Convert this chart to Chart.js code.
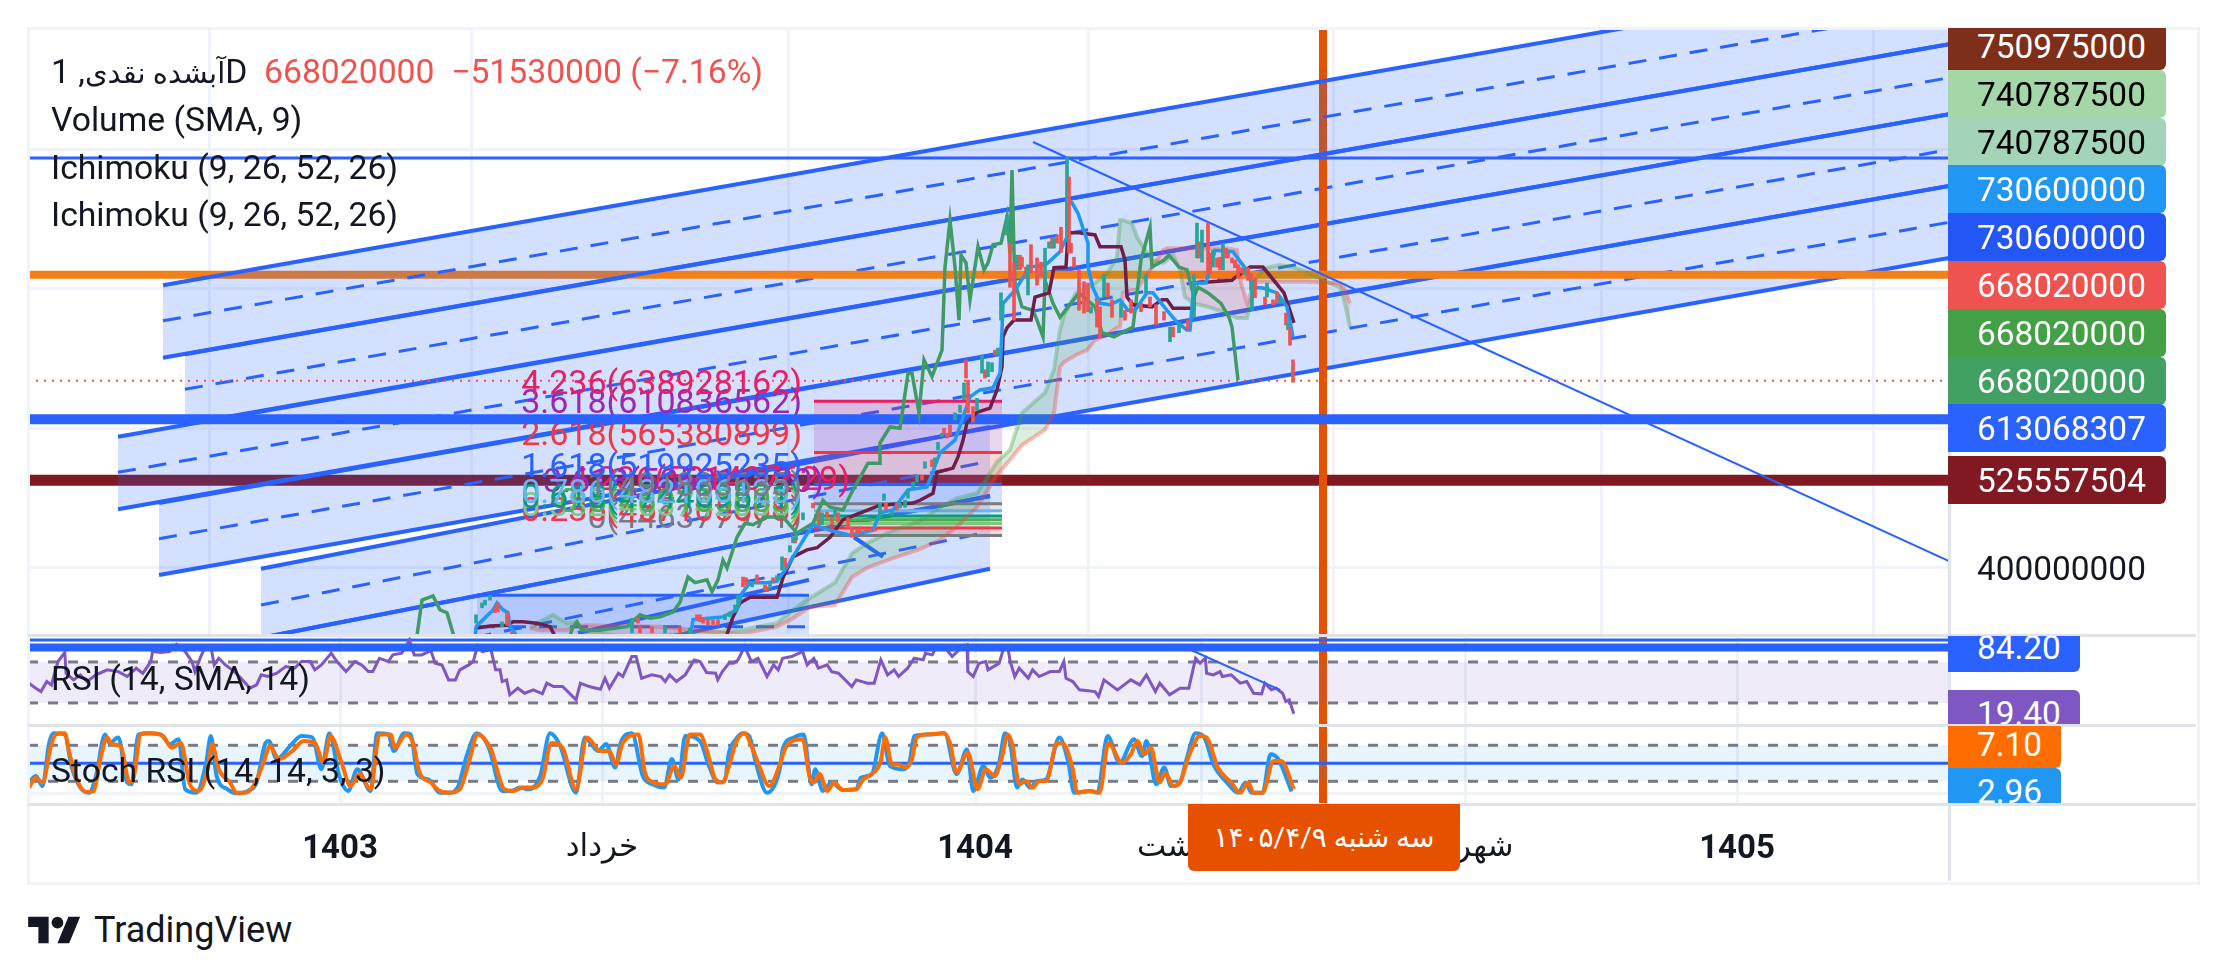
<!DOCTYPE html>
<html>
<head>
<meta charset="utf-8">
<title>آبشده نقدی</title>
<script src="https://cdn.jsdelivr.net/npm/chart.js@4/dist/chart.umd.js"></script>
<style>
  html, body { margin: 0; padding: 0; background: #fff; width: 2223px; height: 979px; overflow: hidden; }
  body { font-family: Roboto, 'DejaVu Sans', sans-serif; color: #131722; }
  canvas { position: absolute; left: 28px; z-index: 1; }
  .rule { position: absolute; z-index: 2; }
  .legend { position: absolute; left: 51px; font-size: 33.7px; line-height: 48px; white-space: pre; z-index: 3; direction: ltr; }
  .legend .down { color: #ef5350; }
  .legend .name { font-size: 29px; }
  .tags { position: absolute; left: 1948px; width: 240px; overflow: hidden; z-index: 3; }
  .tag { position: absolute; left: 0; height: 47.5px; line-height: 47.5px; padding: 0 19px 0 29px; font-size: 33.4px; color: #fff; border-radius: 0 6px 6px 0; }
  .tags.axis .tag { line-height: 49.5px; }
  .date { position: absolute; left: 1188px; top: 804px; width: 272px; height: 67px; line-height: 67px; background: #e65100; color: #fff; text-align: center; font-size: 28px; border-radius: 0 0 6px 6px; z-index: 4; direction: rtl; }
  .brand { position: absolute; left: 94px; top: 907px; font-size: 36px; line-height: 46px; }
  .mark { position: absolute; left: 28px; top: 911px; }
</style>
</head>
<body>
<canvas id="price" width="2168" height="607" style="top:28px"></canvas>
<canvas id="rsi" width="2168" height="90" style="top:635px"></canvas>
<canvas id="stoch" width="2168" height="156" style="top:725px"></canvas>

<div class="rule" style="left:27px;top:27px;width:2167px;height:852px;border:3px solid #f0f3fa"></div>
<div class="rule" style="left:1948px;top:28px;width:3px;height:853px;background:#e0e3eb"></div>
<div class="rule" style="left:28px;top:634px;width:2168px;height:3px;background:#e0e3eb"></div>
<div class="rule" style="left:28px;top:724px;width:2168px;height:3px;background:#e0e3eb"></div>
<div class="rule" style="left:28px;top:803px;width:2168px;height:3px;background:#e0e3eb"></div>

<div class="legend" style="top:48px">1 ,<span class="name">آبشده نقدی</span>D  <span class="down">668020000  −51530000 (−7.16%)</span></div>
<div class="legend" style="top:96px">Volume (SMA, 9)</div>
<div class="legend" style="top:144px">Ichimoku (9, 26, 52, 26)</div>
<div class="legend" style="top:191px">Ichimoku (9, 26, 52, 26)</div>
<div class="legend" style="top:655px">RSI (14, SMA, 14)</div>
<div class="legend" style="top:747px">Stoch RSI (14, 14, 3, 3)</div>

<div class="tags axis" style="top:28px;height:607px">
  <div class="tag" style="top:-6px;width:170px;background:#7e2f1a">750975000</div>
  <div class="tag" style="top:42px;width:170px;background:#a5d6a7;color:#000">740787500</div>
  <div class="tag" style="top:90px;width:170px;background:#a3d4b7;color:#000">740787500</div>
  <div class="tag" style="top:137px;width:170px;background:#2196f3">730600000</div>
  <div class="tag" style="top:185px;width:170px;background:#2257f5">730600000</div>
  <div class="tag" style="top:233px;width:170px;background:#ef5350">668020000</div>
  <div class="tag" style="top:281px;width:170px;background:#43a047">668020000</div>
  <div class="tag" style="top:329px;width:170px;background:#41a062">668020000</div>
  <div class="tag" style="top:376px;width:170px;background:#2962ff">613068307</div>
  <div class="tag" style="top:428px;width:170px;background:#801922">525557504</div>
</div>
<div class="tags" style="top:636px;height:88px">
  <div class="tag" style="top:-12px;width:84px;background:#2962ff">84.20</div>
  <div class="tag" style="top:54px;width:84px;background:#7e57c2">19.40</div>
</div>
<div class="tags" style="top:726px;height:77px">
  <div class="tag" style="top:-4px;width:65px;height:46px;line-height:46px;background:#ff6d00">7.10</div>
  <div class="tag" style="top:42px;width:65px;background:#2196f3">2.96</div>
</div>

<div class="date">سه شنبه ۱۴۰۵/۴/۹</div>

<svg class="mark" width="53" height="41" viewBox="0 0 36 28"><path fill="#131722" d="M14 22H7V11H0V4h14v18zM28 22h-8l7.5-18h8L28 22z"/><circle fill="#131722" cx="20" cy="8" r="4"/></svg>
<div class="brand">TradingView</div>

<script>
const tickBars = [156, 287, 473.5, 586.5, 718.5, 854.5];
const tickLabels = ['1403', 'خرداد', '1404', 'اردیبهشت', 'شهریور', '1405'];
const yearLabels = ['1403', '1404', '1405'];
const priceTicks = [400, 600, 800, 1000];

// prices are in millions, bars are chart-wide indexes
const lastPrice = 668.02;
const resistanceLevel = 820;
const supportLevel = 613.068307;
const floorLevel = 525.557504;
const thinLevel = 987;
const cursorBar = 647.5;

const channelFromBars = [67.5, 78.5, 45, 65.5, 116.5, 116.5];
const channelToBars = [960.5, 960.5, 960.5, 960.5, 481, 481];
const channelUpper = [[805, 1255], [706, 1150], [588, 1050], [493, 947], [399, 602], [300, 503]];
const channelMiddle = [[754, 1203], [656, 1102], [537, 999], [442, 895], [347, 553], [238, 452]];
const channelLower = [[701, 1150], [606, 1050], [484, 947], [390, 844], [300, 503], [177, 399]];

const boxBars = [224.5, 390.5];
const boxValues = [361, 316, 270];
const trendBars = [502.5, 960.5];
const trendValues = [1010, 410];
const wedgeBars = [275, 390.5];
const wedgeValues = [307, 383];
const arrowBars = [413, 427.5];
const arrowValues = [444, 416];

const fibBars = [393, 487];
const fibLevels = [638.928162, 610.836562, 565.380899, 519.925235, 491.833635, 482.106123, 474.469571, 469.105803, 463.742035, 457.105508, 446.377971];
const fibTexts = ['4.236(638928162)', '3.618(610836562)', '2.618(565380899)', '1.618(519925235)', '1(491833635)', '0.786(482106123)', '0.618(474469571)', '0.5(469105803)', '0.382(463742035)', '0.236(457105508)', '0(446377971)'];
const fibColors = ['#e91e63', '#9c27b0', '#f23645', '#2962ff', '#787b86', '#64b5f6', '#089981', '#4caf50', '#81c784', '#f23645', '#787b86'];
const otherFibBars = [411, 398];
const otherFibLevels = [501, 498];
const otherFibTexts = ['4.236(521407629)', '3.618(505311120)'];
const otherFibColors = ['#e91e63', '#9c27b0'];

const chikou = [[193.5,283],[197,354],[202.5,360],[206,340],[209.5,336],[213.5,297],[246,268],[268.5,283],[272.5,316],[274.5,323],[277,311],[286,311],[299.5,316],[306,333],[311,328],[316,330],[322.5,337],[326,351],[330,387],[333.5,379],[339.5,383],[342,366],[345,383],[347.5,411],[349.5,400],[354.5,444],[358.5,464],[362.5,462],[369.5,473],[377.5,473],[384.5,450],[392.5,464],[397.5,497],[401,487],[407.5,483],[412.5,512],[420,550],[426,550],[426,579],[431,602],[436,600],[440,679],[442,679],[445.5,622],[448,698],[452,674],[457,712],[458.5,831],[461,898],[463.5,831],[465.5,755],[466.5,848],[469,837],[471,784],[475,860],[478,827],[480,837],[482.5,863],[486.5,865],[489.5,903],[491,851],[492,970],[493,851],[493.5,808],[497,774],[502.5,769],[504.5,755],[507.5,731],[508.5,812],[512.5,779],[516,759],[520,774],[525.5,794],[533.5,774],[537,737],[543,731],[552.5,745],[556.5,841],[561,888],[562,831],[568,841],[570.5,848],[575.5,831],[579.5,827],[583,788],[585,802],[590,794],[596.5,779],[600.5,759],[602,745],[605,669]];

const tenkan = [[223.5,297],[224,316],[232.5,340],[234.5,350],[237.5,340],[240,336],[241,316],[246,297],[331,297],[332.5,326],[347.5,330],[354.5,340],[357,364],[361,379],[369.5,379],[374.5,381],[379.5,401],[382.5,416],[388.5,444],[392.5,462],[401,454],[411,447],[422.5,454],[426,479],[432.5,483],[440,512],[449.5,516],[456,565],[463.5,583],[467.5,616],[471,645],[476,655],[482.5,658],[486,679],[487,741],[487.5,779],[493.5,798],[501,831],[508.5,834],[510,837],[516,853],[519.5,874],[519.5,923],[522,923],[525,908],[530,865],[530,831],[532.5,801],[536,779],[541,777],[546,784],[550,769],[553.5,769],[559.5,794],[562.5,794],[569.5,769],[574.5,752],[579.5,741],[581,741],[583,808],[589,808],[593.5,855],[602.5,853],[610,824],[612.5,802],[617.5,801],[624.5,794],[629.5,774],[632.5,731]];

const kijun = [[224.5,314],[231,317],[239.5,318],[242.5,323],[247.5,323],[254.5,321],[261,316],[264.5,297],[348.5,297],[352.5,330],[356,350],[361,358],[374.5,358],[377.5,386],[382.5,416],[389.5,426],[394.5,429],[401,444],[407.5,469],[426,490],[442.5,493],[446,497],[452.5,507],[454.5,537],[462.5,543],[465,559],[467.5,583],[469.5,608],[474.5,623],[481,629],[484.5,655],[487,688],[487.5,731],[489.5,744],[493,755],[501.5,755],[503.5,788],[510.5,794],[513,830],[519,831],[520,880],[525.5,880],[533.5,877],[536,860],[546.5,860],[548.5,841],[549.5,788],[552.5,777],[562,774],[567,784],[569.5,784],[572.5,772],[583,772],[583,808],[602,812],[604,817],[611,831],[617.5,831],[628,794],[633,751]];

const cloudBars = [251,256,262.5,269.5,273.5,278.5,296,316,356,374.5,382.5,391,403.5,412,420,432.5,445,456,464.5,474.5,484.5,491,497,508.5,513,516,518,524,529.5,533.5,539.5,544.5,546,547.5,552,554.5,559.5,562,567.5,569.5,572.5,576,578.5,583,590,599.5,604.5,606.5,609.5,612,613.5,616,619.5,626,632.5,639.5,651,656,658.5,661];
const spanA = [314,323,333,321,323,308,303,303,311,321,340,357,379,421,436,454,466,487,500,507,552,569,622,651,684,741,762,794,802,808,822,845,898,898,894,874,851,841,837,841,848,827,788,779,774,765,758,758,758,788,812,822,830,834,831,824,808,802,779,745];
const spanB = [314,311,311,311,316,318,317,316,305,316,328,344,347,387,401,414,426,440,459,487,533,555,576,598,622,688,695,705,712,726,734,744,745,794,798,798,820,830,855,858,858,858,858,858,858,858,855,808,779,798,810,810,810,810,810,810,808,808,798,779];

const candles = [[224,321,333],[227,343,350],[228.5,347,354],[231,354,361],[233.5,344,336],[235,350,337],[237,316,323],[239.5,336,318],[242,308,297],
[302,307,328],[305,328,321],[306,316,307],[312,316,307],[318.5,307,316],[326,316,307],[331,307,314],[334.5,333,326],[336,333,323],[337.5,328,321],[340,326,318],[342.5,326,318],[345,326,318],[348.5,326,333],[351,330,337],[353.5,337,347],[355,344,361],
[357.5,387,373],[359,386,376],[362,373,380],[364.5,390,379],[368.5,376,368],[369.5,373,366],[371,371,377],[372.5,386,380],[374.5,383,389],[377,397,416],[378.5,414,401],[381,423,432],[382.5,436,444],[383.5,443,436],
[384,440,452],[387.5,469,479],[392.5,493,486],[395.5,480,462],[397,462,479],[399.5,480,472],[402,473,462],[403.5,473,483],[405,479,466],[410,472,457],[412,459,444],[414.5,457,450],[416,459,450],[418.5,457,452],[421,457,452],[423.5,457,453],[426,473,493],[428,497,506],[429,493,483],[432,476,480],[434.5,493,483],[436,486,493],[438.5,487,497],[440,500,512],[442.5,515,523],[444.5,523,533],[447,533,526],[448.5,543,552],[452,555,545],[453.5,547,558],
[455,569,580],[457,588,593],[458,600,593],[459.5,593,586],[461,605,590],[463.5,612,622],[466,623,633],[468,641,665],[469,698,672],[470,669,622],[472.5,631,609],[474.5,626,643],[477,679,705],[478.5,684,672],[480,674,695],[482,681,694],[483.5,712,705],[485,705,715],
[486.5,755,794],[489.5,877,905],[491,865,802],[493,837,755],[494.5,827,848],[496,848,827],[497,845,831],[499,831,817],[500,791,834],[501.5,863,822],[504.5,844,805],[506.5,838,817],[508.5,808,858],[510.5,858,867],[512,873,858],[513,858,873],[514.5,877,865],[516.5,888,852],[519.5,870,989],[520.5,960,851],[521.5,865,851],[523,845,831],[525.5,827,769],[528,810,765],[530,808,767],[531.5,765,774],[534.5,784,745],[536,774,729],[538,788,820],[540,808,788],[542,784,759],[546.5,759,779],[548.5,769,755],[551.5,784,765],[556.5,779,767],[559,794,820],[561,788,774],[564,777,748],[568,767,755],[571,724,745],[572.5,745,731],[575.5,737,751],[580,755,741],[583,759,820],
[584.5,844,894],[585.5,867,844],[587,838,884],[590,894,822],[591,851,822],[592.5,831,855],[594.5,844,831],[596,845,827],[597.5,827,865],[599,858,844],[600,851,844],[602,844,837],[603.5,841,830],[605,834,815],[607,830,822],[608.5,820,827],[610,830,812],[611.5,822,798],[612,769,812],[613.5,815,787],[618.5,788,777],[619.5,788,808],[622.5,784,777],[624.5,795,779],[626,779,788],[629,765,748],[630,741,751],[631,745,719],[632.5,698,666]];

const rsiLevels = [70, 30];
const rsiExtreme = 84.2;
const rsiThin = 91.5;
const rsiTrendBars = [581.5, 626];
const rsiTrendValues = [81.7, 42.7];
const rsiLine = [[0.5,49.3],[3.9,44.4],[6.5,41.1],[9.4,50.9],[11.7,47.6],[15,70.4],[18.4,79.2],[19,59],[22.8,52.5],[26.2,57.4],[29.5,50.9],[34,57.4],[39.6,62.3],[45.2,60.6],[49.6,55.8],[54.1,63.9],[57.4,59],[61.4,70.4],[62.3,80.1],[66.4,79.2],[70.8,80.1],[74.2,87.3],[78.6,80.1],[82,70.4],[83.5,60.6],[86.4,75.3],[88.7,85],[91.4,85.7],[93.1,67.1],[95.4,73.6],[98.7,67.1],[103.2,60.6],[106.5,54.1],[111,44.4],[114.3,47.6],[116.6,57.4],[119.9,55.8],[124.4,59],[128.9,65.5],[133.3,63.9],[136.7,70.4],[141.1,70.4],[143.4,62.3],[146.7,67.1],[151.6,78.5],[154.5,70.4],[159,60.6],[163.5,70.4],[166.8,67.1],[170.2,60.6],[172.4,60.6],[175.7,73.6],[180.2,70.4],[182.4,76.9],[186.9,78.5],[190.7,91.5],[193.1,76.9],[196.9,76.9],[201.4,81.1],[203.6,68.8],[207,67.1],[210.3,52.5],[213.7,52.5],[215.9,62.3],[220.4,67.1],[222.6,70.4],[224.8,85.7],[227.1,80.1],[231.5,81.8],[233.8,62.3],[236,62.3],[237.1,50.9],[239.3,52.5],[240.9,37.9],[244.9,44.4],[248.3,39.5],[252.7,42.8],[257.2,38.9],[259.4,49.3],[262.8,46],[267.3,46],[274,33],[276.2,49.3],[280.6,46],[286.2,43.4],[288.5,54.1],[290.7,44.4],[295.2,59],[297.4,55.8],[301.9,75.3],[304.1,75.3],[306.8,54.1],[311.9,57.4],[316.4,55.8],[318.6,50.9],[320.8,57.4],[324.2,50.9],[328.6,57.4],[333.1,72],[336,70.4],[339.3,59.7],[343.8,59],[344.9,52.5],[347.2,60.6],[350.5,68.8],[352.7,68.8],[355,72],[358.3,85],[361.7,70.4],[365,73.6],[369.5,55.8],[372.8,67.1],[375.1,62.3],[377.3,73.6],[381.8,75.3],[387.3,80.1],[389.6,67.1],[392.9,73.6],[395.2,63.9],[399.6,67.1],[401.8,60.6],[405.2,59],[411.9,46],[414.1,52.5],[419.7,49.3],[423.1,49.3],[426.4,72],[429.8,57.4],[433.1,62.3],[435.3,55.8],[439.8,63.9],[443.1,73.6],[447.6,72],[448.7,78.5],[452.1,76.9],[454.3,85],[457.7,85.7],[462.1,75.3],[465.5,81.8],[469.5,86.6],[469.9,60.6],[472.6,55.8],[475.5,68.8],[478.9,70.4],[480,62.3],[485.6,68.8],[487.8,83.4],[490,83.4],[491.1,70.4],[493.4,55.8],[495.6,63.9],[500.1,54.1],[502.3,62.3],[505.6,55.8],[511.2,60.6],[515.7,60.6],[517.9,70.4],[519,54.1],[522.4,50.9],[525.7,42.8],[533.5,41.1],[535.3,36.3],[538,52.5],[544.7,42.8],[551.4,52.5],[555.9,47.6],[559.2,57.4],[563.7,41.1],[565.9,49.3],[570.8,37.9],[576,44.4],[580.4,44.4],[583.8,73.6],[586,68.8],[588.7,73.6],[589.3,59],[592.7,57.4],[596,60.6],[597.2,55.8],[601.6,57.4],[606.1,49.3],[609.4,50.9],[612.8,39.5],[616.8,38.9],[618.4,49.3],[621.7,42.8],[624,44.4],[627.3,39.5],[628.9,31.4],[630.6,33],[632.9,19.4]];

const stochLevels = [80, 20];
const stochMiddle = 50;
const stochK = [[0.5,18],[3.9,29],[7.2,12],[10.6,84],[12.8,100],[18.4,98],[21.7,45.5],[26.2,9.5],[30.6,1],[34,29],[38.5,98],[40.7,84],[45.2,93],[49.6,18],[51.8,15],[55.2,98],[59.7,100],[66.4,98],[70.8,82],[75.3,90],[78.6,6.7],[84.2,1],[89.1,51],[91.4,95.5],[94.3,29],[99.8,6.7],[104.3,0],[109.9,4],[114.3,18],[118.8,84],[120.4,87],[124.4,57],[131.1,79],[136.7,95.5],[142.3,93],[146.7,40],[150.7,100],[155.6,29],[160.1,4],[164.6,40],[171.3,4],[174.6,100],[180.2,98],[182.9,70.5],[188,100],[191.4,98],[194.7,32],[200.3,23],[205.9,1],[210.3,1],[214.8,9.5],[219.3,62],[224.4,100],[230.4,76],[237.1,4],[241.6,4],[246,9.5],[250.5,6.7],[256.1,29],[261,100],[266.1,79],[274,1],[278.4,93],[285.1,70.5],[289.1,82],[293.6,43],[296.3,84],[301.9,100],[307.4,29],[312.3,15],[318.1,9.5],[321.9,57],[325.3,23],[328.6,95.5],[336,87],[340.5,45.5],[344.9,18],[348.3,20.5],[350.5,68],[353.9,90],[357.2,100],[360.6,95.5],[363.9,51],[369.5,1],[376.2,45.5],[377.3,73],[382.9,93],[387.8,98],[391.8,15],[393.6,40],[397.4,4],[401.8,18],[407.4,5.5],[414.1,6.7],[416.4,26],[421.9,32],[427.1,100],[430.9,45.5],[437.6,40],[440.9,54],[443.1,95.5],[449.8,98],[458.3,100],[464.3,32],[469.5,73],[472.6,4],[477.7,45.5],[481.1,26],[485.6,51],[488.5,100],[491.1,84],[494.5,9.5],[497.2,23],[501.2,9.5],[504.5,20.5],[509,23],[515.7,93],[520.2,51],[523.1,1],[531.3,4],[534.7,1],[539.8,95.5],[545.8,51],[553,90],[557,62],[559.2,87],[564.1,15],[568.1,43],[571.5,12],[576,18],[579.3,57],[583.8,100],[588.2,93],[592.7,48],[599.4,18],[605,1],[608.8,18],[611.7,1],[617.3,1],[621.3,65],[625.1,57],[631.8,2.96]];
const stochD = [[0.5,9.5],[3.9,26],[7.2,18],[11.7,82],[13.9,98],[18.4,100],[20.6,68],[25.1,18],[29.5,2],[32.9,4],[36.2,57],[39.6,93],[41.8,82],[46.3,79],[50.7,18],[53,29],[56.3,98],[60.8,100],[67.5,95.5],[71.9,76],[76.4,84],[80.9,15],[85.3,4],[89.8,40],[92,82],[95.4,40],[101,18],[104.3,1],[108.8,1],[113.2,15],[117.7,51],[121,79],[125.5,57],[132.2,70.5],[137.8,87],[143.4,84],[147.8,51],[151.2,95.5],[156.8,51],[161.2,12],[165.7,32],[171.3,6.7],[175.7,98],[181.3,98],[183.5,76],[189.1,98],[192.5,84],[195.8,34.5],[201.4,18],[205.9,4],[211.4,1],[215.9,6.7],[220.4,51],[224.8,98],[231.5,73],[238.2,6.7],[242.7,4],[247.2,9.5],[251.6,9.5],[257.2,23],[261.7,84],[267.3,76],[274,6.7],[279.5,93],[286.2,70.5],[290.7,70.5],[294,48],[297.4,84],[305.2,98],[308.5,34.5],[313,18],[318.6,15],[323.1,45.5],[326.4,26],[330.9,98],[336,98],[339.3,73],[343.8,23],[347.2,18],[350.5,45.5],[353.9,84],[358.3,100],[361.7,79],[365,51],[370.6,12],[376.2,51],[378.4,73],[381.8,87],[387.3,90],[390.7,29],[392.9,18],[395.8,32],[399.6,4],[403,18],[407.4,5.5],[414.1,6.7],[417.5,23],[421.9,32],[426.4,54],[428.6,93],[432,48],[435.3,48],[438.7,43],[442,57],[444.3,93],[449.8,98],[457.7,100],[461,84],[464.3,34.5],[469.9,68],[474.8,6.7],[478.9,40],[483.3,29],[486.7,57],[490,98],[492.3,79],[495.6,15],[498.9,20.5],[502.3,9.5],[505.6,20.5],[509,20.5],[514.6,84],[517.9,82],[522.4,40],[524.6,1],[531.3,4],[535.8,1],[540.2,84],[546.9,51],[551.4,65],[554.8,87],[558.1,65],[561.4,76],[565.9,18],[568.6,34.5],[572.6,12],[576,18],[580.4,62],[586,95.5],[589.3,93],[594.9,43],[601.6,18],[606.1,1],[610.1,18],[612.8,1],[617.3,1],[622.8,54],[626.6,54],[632.9,7.1]];

const FONT = "Roboto, 'DejaVu Sans', sans-serif";
const BLUE = '#2962ff';
const SHADE = 'rgba(41, 98, 255, 0.2)';
const xMin = 0;
const xMax = 960.5;

function pairs(points) {
  return points.map(([x, y]) => ({ x, y }));
}

function segment(bars, values) {
  return bars.map((x, i) => ({ x, y: values[i] }));
}

function line(label, data, options) {
  return Object.assign({ type: 'line', label, data, borderWidth: 3, pointRadius: 0, tension: 0, fill: false, clip: 0 }, options);
}

function level(label, value, options) {
  return line(label, segment([xMin, xMax], [value, value]), options);
}

function channel(i) {
  const bars = [channelFromBars[i], channelToBars[i]];
  return [
    line('channel top', segment(bars, channelUpper[i]), { borderColor: BLUE, borderWidth: 4, fill: { target: '+2', above: SHADE, below: SHADE } }),
    line('channel mid', segment(bars, channelMiddle[i]), { borderColor: BLUE, borderDash: [18, 13] }),
    line('channel low', segment(bars, channelLower[i]), { borderColor: BLUE, borderWidth: 4 }),
  ];
}

function fibSets() {
  return fibLevels.map((value, i) => {
    const isLast = i === fibLevels.length - 1;
    const shade = fibColors[i] + '33';
    return line('fib', segment(fibBars, [value, value]), {
      borderColor: fibColors[i],
      fill: isLast ? false : { target: '+1', above: shade, below: shade },
    });
  });
}

function ordered(datasets) {
  // first in the list is painted first
  datasets.forEach((set, i) => { set.order = datasets.length - i; });
  return datasets;
}

function xScale(bottomHeight, showLabels) {
  return {
    type: 'linear',
    min: xMin,
    max: xMax,
    offset: false,
    border: { display: false },
    grid: { color: '#f0f3fa', lineWidth: 3, drawTicks: false },
    afterBuildTicks: (axis) => { axis.ticks = tickBars.map((value) => ({ value })); },
    afterFit: (axis) => { axis.height = bottomHeight; },
    ticks: {
      display: showLabels,
      autoSkip: false,
      maxRotation: 0,
      padding: 26,
      color: '#131722',
      callback: (value) => tickLabels[tickBars.indexOf(value)],
      font: (ctx) => {
        const isYear = yearLabels.includes(tickLabels[ctx.index]);
        return { family: FONT, size: isYear ? 33 : 31, weight: isYear ? 'bold' : 'normal' };
      },
    },
  };
}

function yScale(min, max, tickValues, showLabels) {
  return {
    type: 'linear',
    position: 'right',
    min,
    max,
    border: { display: false },
    grid: { color: '#f0f3fa', lineWidth: 3, drawTicks: false },
    afterBuildTicks: (axis) => { axis.ticks = tickValues.map((value) => ({ value })); },
    afterFit: (axis) => {
      // tick padding would otherwise also inset the pane from top and bottom
      axis.width = 247;
      axis.paddingTop = 0;
      axis.paddingBottom = 0;
    },
    ticks: {
      display: showLabels,
      padding: 28,
      labelOffset: 4,
      color: '#131722',
      font: { family: FONT, size: 33.4 },
      callback: (value) => String(value * 1000000),
    },
  };
}

// fib texts sit under the thick support line, so they are painted just before it
const fibText = {
  id: 'fibText',
  beforeDatasetDraw(chart, args) {
    if (chart.data.datasets[args.index].label !== 'support') return;
    const { ctx, scales } = chart;
    ctx.save();
    ctx.font = '34px ' + FONT;
    ctx.textAlign = 'right';
    ctx.textBaseline = 'middle';
    otherFibTexts.forEach((text, i) => {
      ctx.fillStyle = otherFibColors[i];
      ctx.fillText(text, scales.x.getPixelForValue(otherFibBars[i]), scales.y.getPixelForValue(otherFibLevels[i]) - 16);
    });
    fibTexts.slice().reverse().forEach((text, i) => {
      const n = fibTexts.length - 1 - i;
      ctx.fillStyle = fibColors[n];
      ctx.fillText(text, scales.x.getPixelForValue(fibBars[0]) - 12, scales.y.getPixelForValue(fibLevels[n]) - 16);
    });
    ctx.restore();
  },
};

function baseOptions(x, y) {
  return {
    responsive: false,
    animation: false,
    events: [],
    layout: { padding: 0, autoPadding: false },
    plugins: { legend: { display: false }, tooltip: { enabled: false } },
    scales: { x, y },
  };
}

const priceMin = 304.05;
const priceMax = 1173.3;

new Chart(document.getElementById('price'), {
  type: 'line',
  data: {
    datasets: ordered([
      level('floor', floorLevel, { borderColor: '#801922', borderWidth: 11 }),
      ...channel(1), ...channel(2), ...channel(3), ...channel(4), ...channel(5),
      line('box top', segment(boxBars, [boxValues[0], boxValues[0]]), { borderColor: BLUE, fill: { target: '+2', above: SHADE, below: SHADE } }),
      line('box mid', segment(boxBars, [boxValues[1], boxValues[1]]), { borderColor: BLUE, borderDash: [18, 13] }),
      line('box low', segment(boxBars, [boxValues[2], boxValues[2]]), { borderColor: BLUE }),
      line('wedge', segment(wedgeBars, wedgeValues), { borderColor: BLUE, borderWidth: 4 }),
      line('arrow', segment(arrowBars, arrowValues), { borderColor: BLUE, borderWidth: 4 }),
      ...fibSets(),
      line('cursor', segment([cursorBar, cursorBar], [priceMin, priceMax]), { borderColor: '#e65100', borderWidth: 8 }),
      level('resistance', resistanceLevel, { borderColor: '#f57f17', borderWidth: 8 }),
      ...channel(0),
      level('thin', thinLevel, { borderColor: BLUE }),
      line('trend', segment(trendBars, trendValues), { borderColor: BLUE, borderWidth: 2 }),
      level('last', lastPrice, { borderColor: '#ef5350', borderWidth: 2, borderDash: [2, 6] }),
      level('support', supportLevel, { borderColor: BLUE, borderWidth: 10 }),
      line('span a', segment(cloudBars, spanA), {
        borderColor: 'rgba(67, 160, 71, 0.35)',
        borderWidth: 4,
        fill: { target: '+1', above: 'rgba(67, 160, 71, 0.18)', below: 'rgba(244, 67, 54, 0.15)' },
      }),
      line('span b', segment(cloudBars, spanB), { borderColor: 'rgba(244, 67, 54, 0.35)', borderWidth: 4 }),
      line('chikou', pairs(chikou), { borderColor: '#3f9a63', borderWidth: 3.5 }),
      line('kijun', pairs(kijun), { borderColor: '#6d1f4a', borderWidth: 3.5 }),
      line('tenkan', pairs(tenkan), { borderColor: '#2196f3', borderWidth: 3.5 }),
      {
        type: 'bar',
        label: 'candles',
        data: candles.map(([x, open, close]) => ({ x, y: [open, close] })),
        backgroundColor: candles.map(([, open, close]) => (close >= open ? '#26a69a' : '#ef5350')),
        barThickness: 3,
        clip: 0,
      },
    ]),
  },
  options: baseOptions(xScale(0, false), yScale(priceMin, priceMax, priceTicks, true)),
  plugins: [fibText],
});

const dashed = { borderColor: '#787b86', borderDash: [10, 10] };
const smooth = { cubicInterpolationMode: 'monotone' };

new Chart(document.getElementById('rsi'), {
  type: 'line',
  data: {
    datasets: ordered([
      line('cursor', segment([cursorBar, cursorBar], [0, 100]), { borderColor: '#e65100', borderWidth: 8 }),
      level('upper', rsiLevels[0], { ...dashed, fill: { target: '+1', above: 'rgba(126, 87, 194, 0.12)', below: 'rgba(126, 87, 194, 0.12)' } }),
      level('lower', rsiLevels[1], dashed),
      level('thin', rsiThin, { borderColor: BLUE }),
      line('rsi', pairs(rsiLine), { borderColor: '#7e57c2' }),
      level('extreme', rsiExtreme, { borderColor: BLUE, borderWidth: 8 }),
      line('rsi trend', segment(rsiTrendBars, rsiTrendValues), { borderColor: BLUE, borderWidth: 2 }),
    ]),
  },
  options: baseOptions(xScale(0, false), yScale(8.5, 96.3, [], false)),
});

new Chart(document.getElementById('stoch'), {
  type: 'line',
  data: {
    datasets: ordered([
      line('cursor', segment([cursorBar, cursorBar], [-20, 120]), { borderColor: '#e65100', borderWidth: 8 }),
      level('upper', stochLevels[0], { ...dashed, fill: { target: '+1', above: 'rgba(33, 150, 243, 0.1)', below: 'rgba(33, 150, 243, 0.1)' } }),
      level('lower', stochLevels[1], dashed),
      level('middle', stochMiddle, { borderColor: BLUE }),
      line('k', pairs(stochK), { borderColor: '#2196f3', borderWidth: 4, ...smooth }),
      line('d', pairs(stochD), { borderColor: '#ff6d00', borderWidth: 4, ...smooth }),
    ]),
  },
  options: baseOptions(xScale(77, true), yScale(-17.8, 113.8, [0], false)),
});
</script>
</body>
</html>
